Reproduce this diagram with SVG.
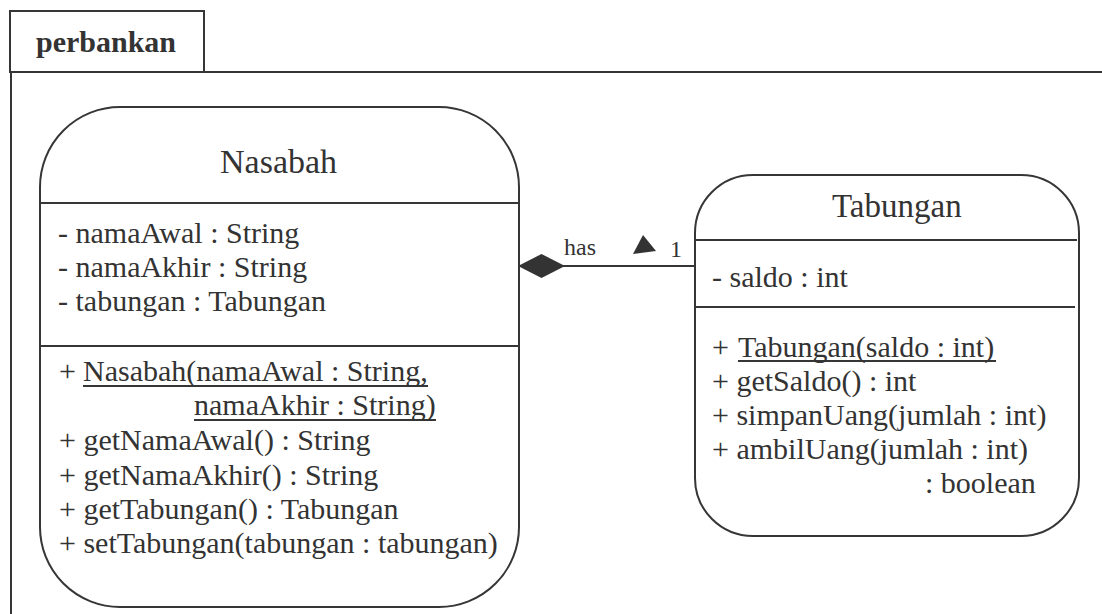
<svg xmlns="http://www.w3.org/2000/svg" width="1102" height="614" viewBox="0 0 1102 614">
<rect width="1102" height="614" fill="#fff"/>
<g id="frame">
<rect x="10" y="11" width="194" height="61" fill="#fff" stroke="#363636" stroke-width="2"/>
<path d="M11,614 V72 H1102" fill="none" stroke="#363636" stroke-width="2"/>
<text font-family="Liberation Serif" fill="#333" x="36" y="52" font-size="30" font-weight="bold">perbankan</text>
</g>
<g id="connectors">
<line x1="519" y1="266" x2="695" y2="266" stroke="#363636" stroke-width="2"/>
<polygon points="518,266 541.5,254 565,266 541.5,278" fill="#333"/>
<polygon points="633,254 643,235 656,251" fill="#333"/>
<text font-family="Liberation Serif" fill="#333" font-size="24" x="564" y="255">has</text>
<text font-family="Liberation Serif" fill="#333" font-size="24" x="670" y="257">1</text>
</g>
<g id="node-nasabah">
<rect x="40" y="107" width="479" height="500" rx="80" ry="80" fill="#fff" stroke="#363636" stroke-width="2"/>
<line x1="40" y1="203" x2="519" y2="203" stroke="#363636" stroke-width="2"/>
<line x1="40" y1="346" x2="519" y2="346" stroke="#363636" stroke-width="2"/>
<line x1="83" y1="386" x2="428" y2="386" stroke="#363636" stroke-width="2"/>
<line x1="194" y1="420" x2="436" y2="420" stroke="#363636" stroke-width="2"/>
<text font-family="Times New Roman" fill="#333" font-size="34" x="220" y="173">Nasabah</text>
<text font-family="Times New Roman" fill="#333" font-size="30" x="58" y="243">- namaAwal : String</text>
<text font-family="Times New Roman" fill="#333" font-size="30" x="58" y="277">- namaAkhir : String</text>
<text font-family="Times New Roman" fill="#333" font-size="30" x="58" y="311">- tabungan : Tabungan</text>
<text font-family="Times New Roman" fill="#333" font-size="30" x="59" y="381">+</text>
<text font-family="Times New Roman" fill="#333" font-size="30" x="83" y="381">Nasabah(namaAwal : String,</text>
<text font-family="Times New Roman" fill="#333" font-size="30" x="194" y="415">namaAkhir : String)</text>
<text font-family="Times New Roman" fill="#333" font-size="30" x="59" y="450">+ getNamaAwal() : String</text>
<text font-family="Times New Roman" fill="#333" font-size="30" x="59" y="485">+ getNamaAkhir() : String</text>
<text font-family="Times New Roman" fill="#333" font-size="30" x="59" y="519">+ getTabungan() : Tabungan</text>
<text font-family="Times New Roman" fill="#333" font-size="30" x="59" y="553">+ setTabungan(tabungan : tabungan)</text>
</g>
<g id="node-tabungan">
<rect x="695" y="175" width="384" height="361" rx="58" ry="58" fill="#fff" stroke="#363636" stroke-width="2"/>
<line x1="695" y1="240" x2="1077" y2="240" stroke="#363636" stroke-width="2"/>
<line x1="695" y1="307" x2="1075" y2="307" stroke="#363636" stroke-width="2"/>
<line x1="738" y1="361" x2="996" y2="361" stroke="#363636" stroke-width="2"/>
<text font-family="Times New Roman" fill="#333" font-size="33" x="832" y="217">Tabungan</text>
<text font-family="Times New Roman" fill="#333" font-size="30" x="712" y="287">- saldo : int</text>
<text font-family="Times New Roman" fill="#333" font-size="30" x="712" y="357">+</text>
<text font-family="Times New Roman" fill="#333" font-size="30" x="738" y="357">Tabungan(saldo : int)</text>
<text font-family="Times New Roman" fill="#333" font-size="30" x="712" y="391">+ getSaldo() : int</text>
<text font-family="Times New Roman" fill="#333" font-size="30" x="712" y="425">+ simpanUang(jumlah : int)</text>
<text font-family="Times New Roman" fill="#333" font-size="30" x="712" y="459">+ ambilUang(jumlah : int)</text>
<text font-family="Times New Roman" fill="#333" font-size="30" x="925" y="493">: boolean</text>
</g>
</svg>
